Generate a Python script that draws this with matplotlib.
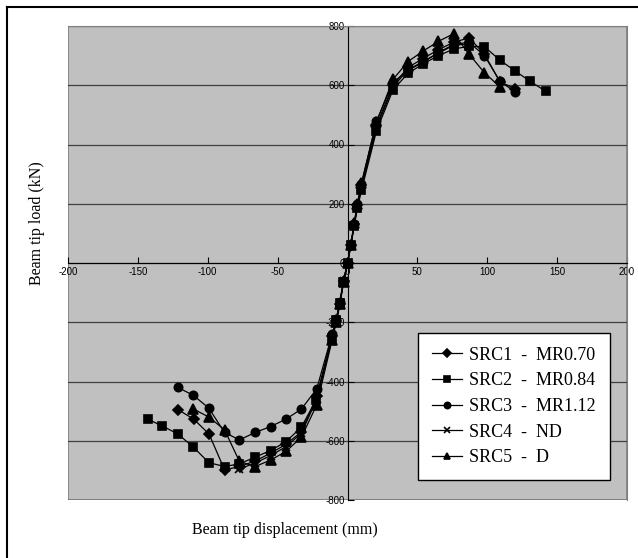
import matplotlib
matplotlib.use("Agg")
import matplotlib.pyplot as plt
from matplotlib.lines import Line2D

plt.rcParams["axes.unicode_minus"] = False

# Load-displacement data (mm, kN)
src1_x = [-121, -110, -99, -88, -77, -66, -55, -44, -33, -22, -11, -8, -5.5, -2.8, 0,
          2.4, 4.8, 7.1, 10, 20.7, 32.6, 43.3, 54, 65, 76, 87, 98, 109, 120]
src1_y = [-496, -527, -578, -698, -687, -668, -642, -612, -570, -450, -245, -195, -138, -62, 0,
          60, 130, 195, 262, 465, 600, 660, 690, 720, 745, 760, 705, 612, 588]

src2_x = [-143, -132.6, -121.4, -110.2, -99.2, -88, -77.3, -66, -55, -44, -33, -22.4, -11, -8.1, -5.7, -2.9, 0,
          2.4, 4.8, 7.1, 10, 20.7, 32.6, 43.3, 54, 65, 76, 87, 98, 109, 120, 130.5, 141.7]
src2_y = [-527, -550, -577, -622, -674, -687, -678, -655, -633, -603, -554, -462, -253, -191, -135, -64, 0,
          62, 125, 185, 245, 445, 585, 640, 672, 700, 722, 732, 730, 685, 648, 614, 580]

src3_x = [-121.4, -110.2, -99.2, -88, -77.3, -66, -55, -44, -33, -22, -11, -8, -5.5, -2.8, 0,
          2.4, 4.8, 7.1, 10, 20.7, 32.6, 43.3, 54, 65, 76, 87, 98, 109, 120]
src3_y = [-420, -447, -490, -572, -597, -572, -552, -527, -493, -425, -240, -190, -132, -60, 0,
          62, 132, 200, 268, 478, 610, 650, 678, 710, 738, 745, 700, 614, 577]

src4_x = [-77.3, -66, -55, -44, -33, -22, -11, -8, -5.5, -2.8, 0,
          2.4, 4.8, 7.1, 10, 20.7, 32.6, 43.3, 54, 65, 76, 87]
src4_y = [-695, -675, -650, -620, -575, -460, -250, -195, -135, -62, 0,
          60, 128, 190, 255, 455, 595, 652, 680, 708, 735, 740]

src5_x = [-110.2, -99.2, -88, -77.3, -66, -55, -44, -33, -22, -11, -8, -5.5, -2.8, 0,
          2.4, 4.8, 7.1, 10, 20.7, 32.6, 43.3, 54, 65, 76, 87, 98, 109]
src5_y = [-493, -520, -563, -670, -687, -665, -636, -588, -479, -260, -200, -140, -65, 0,
          62, 135, 200, 270, 475, 620, 680, 715, 748, 774, 705, 642, 595]

labels = ["SRC1  -  MR0.70", "SRC2  -  MR0.84", "SRC3  -  MR1.12", "SRC4  -  ND", "SRC5  -  D"]
markers = ["D", "s", "o", "x", "^"]
msizes = [5.5, 6, 6, 6, 6.5]

xticks = [-200, -150, -100, -50, 0, 50, 100, 150, 200]
yticks = [-800, -600, -400, -200, 0, 200, 400, 600, 800]

fig = plt.figure(figsize=(6.38, 5.58), dpi=100)
ax = fig.add_axes([68 / 638, 1 - 500 / 558, 559 / 638, 474 / 558])
ax.set_facecolor("#c0c0c0")

series = [(src1_x, src1_y), (src2_x, src2_y), (src3_x, src3_y), (src4_x, src4_y), (src5_x, src5_y)]
for (xs, ys), m, ms, lab in zip(series, markers, msizes, labels):
    ax.plot(xs, ys, color="black", lw=0.9, marker=m, ms=ms, mew=1.2,
            mfc="black", mec="black", label=lab, zorder=3)

# horizontal gridlines
for yv in yticks:
    ax.axhline(yv, color="#404040", lw=0.9, zorder=1)

ax.set_xlim(-200, 200)
ax.set_ylim(-800, 800)
ax.set_xticks(xticks)
ax.set_yticks(yticks)

# axes cross at the origin, plot area border in gray
for s in ["top", "right"]:
    ax.spines[s].set_color("#808080")
ax.spines["left"].set_position(("data", 0))
ax.spines["bottom"].set_position(("data", 0))
ax.spines["left"].set_color("black")
ax.spines["bottom"].set_color("black")
ax.add_patch(plt.Rectangle((0, 0), 1, 1, transform=ax.transAxes, fill=False,
                           ec="#808080", lw=1.2, zorder=0.5))

ax.tick_params(axis="x", direction="in", length=4, labelsize=7, pad=3)
ax.tick_params(axis="y", direction="in", length=4, labelsize=7, pad=2)
for t in ax.get_xticklabels() + ax.get_yticklabels():
    t.set_fontfamily("Liberation Sans")

fig.text(37 / 638, 1 - 223 / 558, "Beam tip load (kN)", rotation=90,
         ha="center", va="center", family="Liberation Serif", fontsize=11.5)
fig.text(285 / 638, 1 - 530 / 558, "Beam tip displacement (mm)",
         ha="center", va="center", family="Liberation Serif", fontsize=11.5)

leg = ax.legend(loc="upper left", bbox_to_anchor=(418 / 638, 1 - 333 / 558),
                bbox_transform=fig.transFigure, frameon=True, fancybox=False,
                prop={"family": "Liberation Serif", "size": 13},
                handlelength=1.7, handletextpad=0.4, labelspacing=0.48,
                borderpad=0.75, markerscale=0.75, borderaxespad=0)
leg.get_frame().set_edgecolor("black")
leg.get_frame().set_linewidth(1.0)
leg.get_frame().set_facecolor("white")
leg.get_frame().set_alpha(1)

# outer frame of the figure
fig.add_artist(Line2D([7 / 638, 7 / 638], [0, 1 - 7 / 558], transform=fig.transFigure,
                      color="black", lw=1.5))
fig.add_artist(Line2D([7 / 638, 1], [1 - 7 / 558, 1 - 7 / 558], transform=fig.transFigure,
                      color="black", lw=1.5))

fig.savefig("out.png", dpi=100)
